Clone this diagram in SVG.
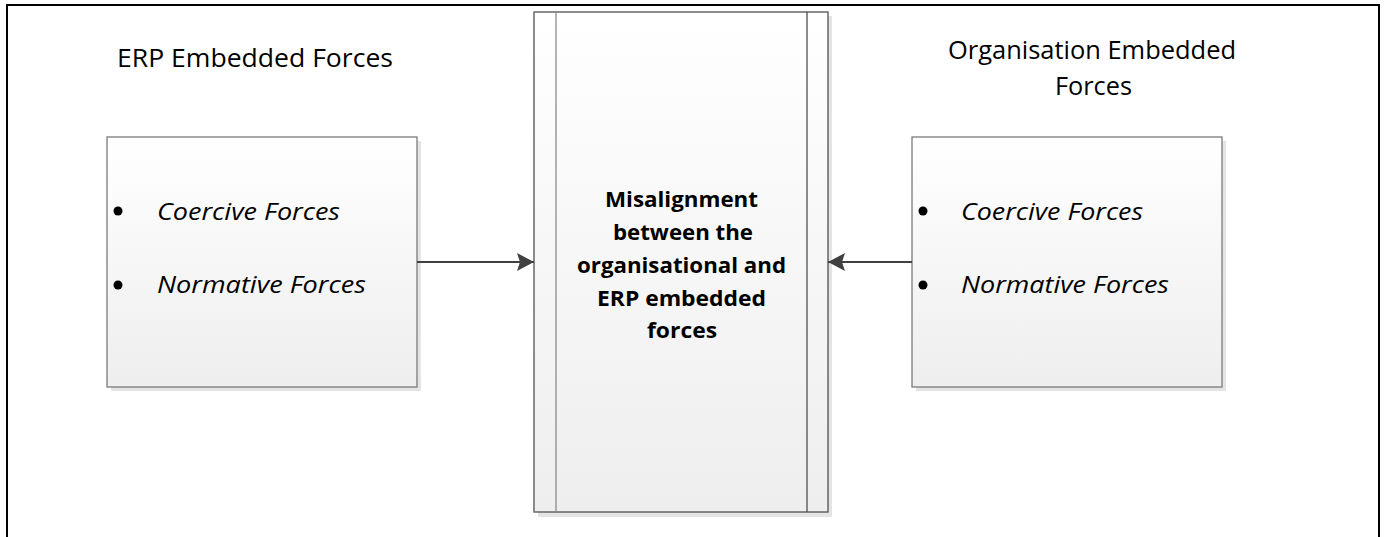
<svg xmlns="http://www.w3.org/2000/svg" width="1384" height="537" viewBox="0 0 1384 537">
<style>
.title{font-family:"Open Sans","Liberation Sans",sans-serif;font-size:25px;fill:#000}
.item{font-family:"Open Sans","Liberation Sans",sans-serif;font-size:24.5px;font-style:italic;fill:#000}
.bold{font-family:"Open Sans","Liberation Sans",sans-serif;font-size:22px;font-weight:bold;fill:#000}
.box{fill:url(#g);stroke:#7a7a7a;stroke-width:1.3}
.shadow{fill:#e4e4e4}
.conn{stroke:#404040;stroke-width:2;fill:none}
</style>
<defs>
<linearGradient id="g" x1="0" y1="0" x2="0" y2="1">
<stop offset="0" stop-color="#ffffff"/>
<stop offset="1" stop-color="#eeeeee"/>
</linearGradient>
<marker id="ah" markerWidth="18" markerHeight="18" refX="17" refY="9" orient="auto" markerUnits="userSpaceOnUse">
<path d="M0,0 L17,9 L0,18 L3,9 Z" fill="#404040"/>
</marker>
</defs>
<rect width="1384" height="537" fill="#fff"/>
<g id="frame">
<path d="M7,537 V5 H1379 V537" fill="none" stroke="#000" stroke-width="2"/>
</g>
<g id="title-erp">
<text class="title" x="117" y="67" textLength="276" lengthAdjust="spacingAndGlyphs">ERP Embedded Forces</text>
</g>
<g id="title-org">
<text class="title" x="948" y="59" textLength="288" lengthAdjust="spacingAndGlyphs">Organisation Embedded</text>
<text class="title" x="1055" y="95" textLength="77" lengthAdjust="spacingAndGlyphs">Forces</text>
</g>
<g id="box-erp">
<rect class="shadow" x="111" y="141" width="310" height="250"/>
<rect class="box" x="107" y="137" width="310" height="250"/>
<circle cx="118" cy="211" r="4.5"/>
<text class="item" x="157" y="220" textLength="183" lengthAdjust="spacingAndGlyphs">Coercive Forces</text>
<circle cx="118" cy="285" r="4.5"/>
<text class="item" x="157" y="293" textLength="209" lengthAdjust="spacingAndGlyphs">Normative Forces</text>
</g>
<g id="box-org">
<rect class="shadow" x="916" y="141" width="310" height="250"/>
<rect class="box" x="912" y="137" width="310" height="250"/>
<circle cx="923" cy="211" r="4.5"/>
<text class="item" x="961" y="220" textLength="182" lengthAdjust="spacingAndGlyphs">Coercive Forces</text>
<circle cx="923" cy="285" r="4.5"/>
<text class="item" x="961" y="293" textLength="208" lengthAdjust="spacingAndGlyphs">Normative Forces</text>
</g>
<g id="box-center">
<rect class="shadow" x="538" y="16" width="294" height="501"/>
<rect x="534" y="12" width="294" height="500" fill="url(#g)" stroke="#505050" stroke-width="1.3"/>
<line x1="534" y1="12" x2="534" y2="512" stroke="#8a8a8a" stroke-width="1.3"/>
<line x1="556" y1="12" x2="556" y2="512" stroke="#8a8a8a" stroke-width="1.3"/>
<line x1="807" y1="12" x2="807" y2="512" stroke="#505050" stroke-width="1.3"/>
<text class="bold">
<tspan x="605" y="207" textLength="153" lengthAdjust="spacingAndGlyphs">Misalignment</tspan>
<tspan x="613" y="240" textLength="140" lengthAdjust="spacingAndGlyphs">between the</tspan>
<tspan x="577" y="273" textLength="209" lengthAdjust="spacingAndGlyphs">organisational and</tspan>
<tspan x="597" y="306" textLength="169" lengthAdjust="spacingAndGlyphs">ERP embedded</tspan>
<tspan x="647" y="338" textLength="70" lengthAdjust="spacingAndGlyphs">forces</tspan>
</text>
</g>
<g id="connectors">
<line class="conn" x1="417" y1="262" x2="534" y2="262" marker-end="url(#ah)"/>
<line class="conn" x1="912" y1="262" x2="828" y2="262" marker-end="url(#ah)"/>
</g>
</svg>
